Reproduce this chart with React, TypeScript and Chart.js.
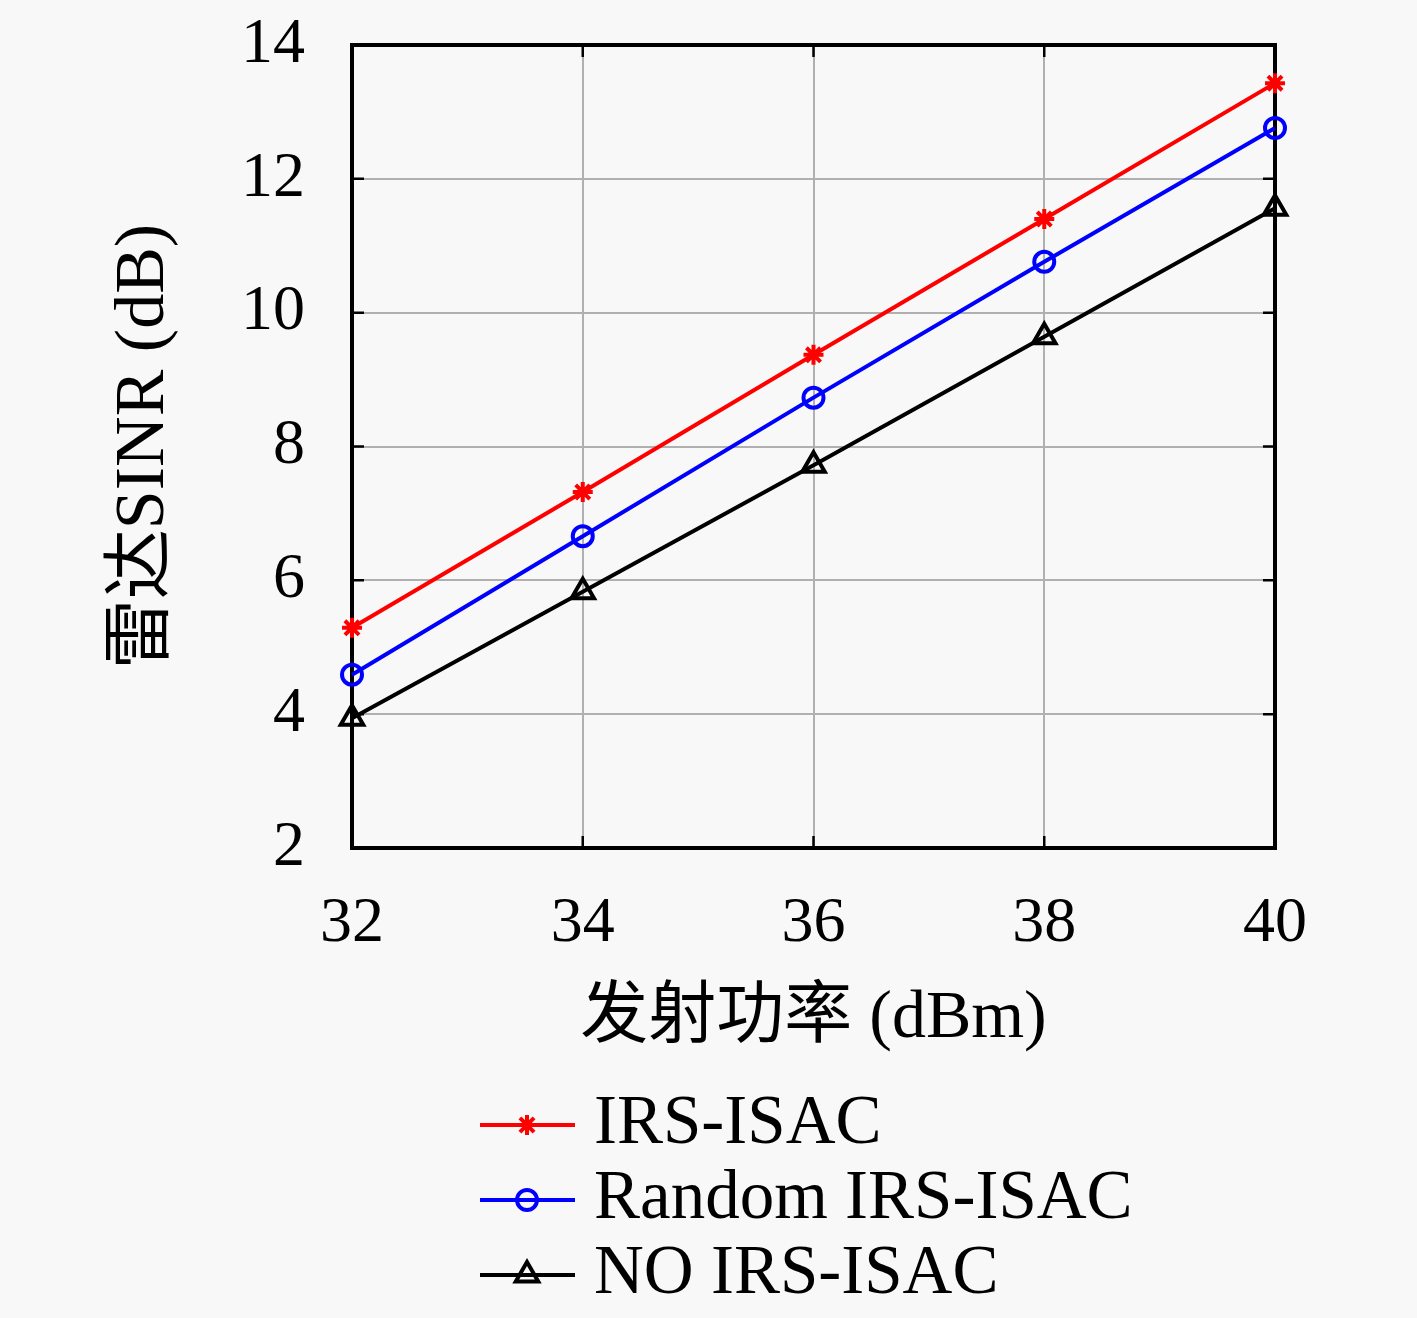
import { useEffect, useRef } from "react"
import { Chart, registerables } from "chart.js"
import { drawPoint } from "chart.js/helpers"

Chart.register(...registerables)

// data
const powerDbm = [32, 34, 36, 38, 40]
const irsIsac = [5.29, 7.32, 9.37, 11.4, 13.43]
const randomIrsIsac = [4.59, 6.66, 8.73, 10.76, 12.76]
const noIrsIsac = [3.94, 5.83, 7.72, 9.64, 11.56]
const seriesNames = ["IRS-ISAC", "Random IRS-ISAC", "NO IRS-ISAC"]
const xTicks = [32, 34, 36, 38, 40]
const yTicks = [2, 4, 6, 8, 10, 12, 14]

const SERIF = "'Liberation Serif', 'Noto Sans CJK SC', serif"
const BG = "#f8f8f8"

const W = 1417
const H = 1318

// background, frame and inward ticks (MATLAB style box)
const framePlugin = {
  id: "frame",
  beforeDraw(chart: Chart) {
    const ctx = chart.ctx
    ctx.save()
    ctx.fillStyle = BG
    ctx.fillRect(0, 0, chart.width, chart.height)
    ctx.restore()
  },
  beforeDatasetsDraw(chart: Chart) {
    const { ctx, chartArea: a, scales } = chart
    ctx.save()
    ctx.strokeStyle = "#000"
    ctx.lineWidth = 2.5
    const len = 12
    ctx.beginPath()
    for (const v of xTicks) {
      const x = scales.x.getPixelForValue(v)
      ctx.moveTo(x, a.bottom)
      ctx.lineTo(x, a.bottom - len)
      ctx.moveTo(x, a.top)
      ctx.lineTo(x, a.top + len)
    }
    for (const v of yTicks) {
      const y = scales.y.getPixelForValue(v)
      ctx.moveTo(a.left, y)
      ctx.lineTo(a.left + len, y)
      ctx.moveTo(a.right, y)
      ctx.lineTo(a.right - len, y)
    }
    ctx.stroke()
    ctx.lineWidth = 4
    ctx.strokeRect(a.left, a.top, a.right - a.left, a.bottom - a.top)
    ctx.restore()
  },
  afterDraw(chart: Chart) {
    // legend below the axes
    const ctx = chart.ctx
    const rowY = [1125, 1200, 1275]
    ctx.save()
    chart.data.datasets.forEach((ds: any, i: number) => {
      const y = rowY[i]
      ctx.strokeStyle = ds.borderColor
      ctx.lineWidth = ds.borderWidth
      ctx.beginPath()
      ctx.moveTo(480, y)
      ctx.lineTo(575, y)
      ctx.stroke()
      ctx.fillStyle = ds.pointBackgroundColor
      ctx.strokeStyle = ds.pointBorderColor
      ctx.lineWidth = ds.pointBorderWidth
      drawPoint(
        ctx,
        { pointStyle: ds.pointStyle, radius: ds.pointRadius, borderWidth: ds.pointBorderWidth, rotation: 0 },
        527,
        y
      )
      ctx.fillStyle = "#000"
      ctx.font = `69px ${SERIF}`
      ctx.textBaseline = "middle"
      ctx.textAlign = "left"
      ctx.fillText(ds.label, 594, y)
    })
    ctx.restore()
  },
}

export default function App() {
  const canvasRef = useRef<HTMLCanvasElement>(null)
  const chartRef = useRef<Chart | null>(null)

  useEffect(() => {
    if (!canvasRef.current) return
    if (chartRef.current) chartRef.current.destroy()

    const toPoints = (ys: number[]) => powerDbm.map((x, i) => ({ x, y: ys[i] }))

    chartRef.current = new Chart(canvasRef.current, {
      type: "line",
      data: {
        datasets: [
          {
            label: seriesNames[0],
            data: toPoints(irsIsac),
            borderColor: "#ff0000",
            borderWidth: 4,
            pointStyle: "star",
            pointRadius: 10,
            pointBorderWidth: 4,
            pointBorderColor: "#ff0000",
            pointBackgroundColor: "#ff0000",
            clip: false,
          },
          {
            label: seriesNames[1],
            data: toPoints(randomIrsIsac),
            borderColor: "#0000ff",
            borderWidth: 4,
            pointStyle: "circle",
            pointRadius: 10,
            pointBorderWidth: 4,
            pointBorderColor: "#0000ff",
            pointBackgroundColor: "rgba(0,0,0,0)",
            clip: false,
          },
          {
            label: seriesNames[2],
            data: toPoints(noIrsIsac),
            borderColor: "#000000",
            borderWidth: 4,
            pointStyle: "triangle",
            pointRadius: 13,
            pointBorderWidth: 4,
            pointBorderColor: "#000000",
            pointBackgroundColor: "rgba(0,0,0,0)",
            clip: false,
          },
        ] as any,
      },
      options: {
        responsive: false,
        animation: false,
        devicePixelRatio: 1,
        layout: { padding: { left: 0, top: 45, right: 142, bottom: 250 } },
        plugins: {
          legend: { display: false },
          tooltip: { enabled: false },
        },
        scales: {
          x: {
            type: "linear",
            min: 32,
            max: 40,
            afterBuildTicks: (s: any) => {
              s.ticks = xTicks.map((v) => ({ value: v }))
            },
            afterFit: (s: any) => {
              s.height = 220
              s.paddingLeft = 0
              s.paddingRight = 0
            },
            border: { display: false },
            grid: { color: "#b0b0b0", lineWidth: 2, drawTicks: false },
            ticks: {
              color: "#000",
              padding: 38,
              font: { family: SERIF, size: 64 },
            },
            title: {
              display: true,
              text: "发射功率 (dBm)",
              color: "#000",
              font: { family: SERIF, size: 68 },
              padding: { top: 0, bottom: 8 },
            },
          },
          y: {
            type: "linear",
            min: 2,
            max: 14,
            afterBuildTicks: (s: any) => {
              s.ticks = yTicks.map((v) => ({ value: v }))
            },
            afterFit: (s: any) => {
              s.width = 352
              s.paddingTop = 0
              s.paddingBottom = 0
            },
            border: { display: false },
            grid: { color: "#b0b0b0", lineWidth: 2, drawTicks: false },
            ticks: {
              color: "#000",
              padding: 47,
              font: { family: SERIF, size: 64 },
            },
            title: {
              display: true,
              text: "雷达SINR (dB)",
              color: "#000",
              font: { family: SERIF, size: 70 },
              padding: { top: 103, bottom: 0 },
            },
          },
        },
      },
      plugins: [framePlugin],
    })

    return () => {
      if (chartRef.current) {
        chartRef.current.destroy()
        chartRef.current = null
      }
    }
  }, [])

  return (
    <div style={{ position: "absolute", left: 0, top: 0, width: W, height: H, background: BG }}>
      <canvas ref={canvasRef} width={W} height={H} style={{ width: W, height: H, display: "block" }} />
    </div>
  )
}
